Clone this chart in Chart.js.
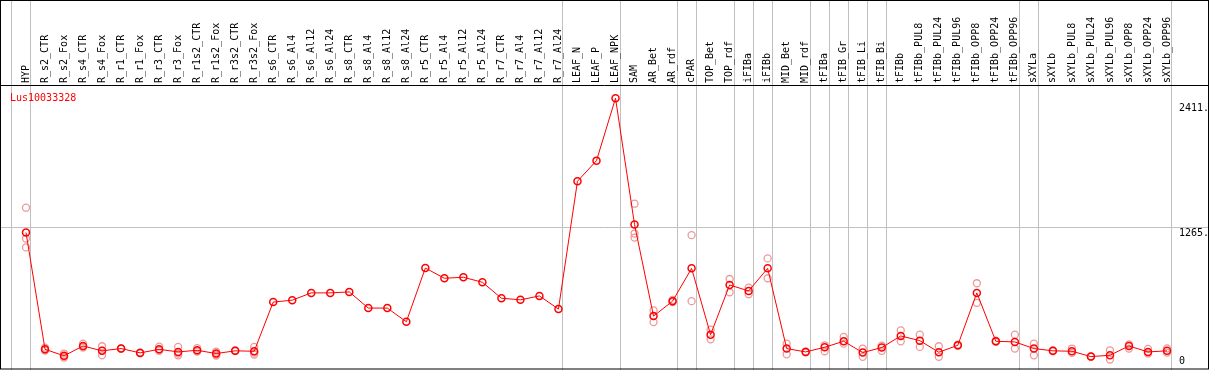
<!DOCTYPE html>
<html>
<head>
<meta charset="utf-8">
<script src="https://cdn.jsdelivr.net/npm/chart.js@4.4.0/dist/chart.umd.min.js"></script>
<style>
  body { margin: 0; background: #fff; }
  #wrap { width: 1209px; height: 370px; }
</style>
</head>
<body>
<div id="wrap"><canvas id="geneChart" width="1209" height="370"></canvas></div>
<script>
var geneName = "Lus10033328";

var categories = ["HYP","R_s2_CTR","R_s2_Fox","R_s4_CTR","R_s4_Fox","R_r1_CTR","R_r1_Fox","R_r3_CTR","R_r3_Fox",
  "R_r1s2_CTR","R_r1s2_Fox","R_r3s2_CTR","R_r3s2_Fox","R_s6_CTR","R_s6_Al4","R_s6_Al12","R_s6_Al24",
  "R_s8_CTR","R_s8_Al4","R_s8_Al12","R_s8_Al24","R_r5_CTR","R_r5_Al4","R_r5_Al12","R_r5_Al24",
  "R_r7_CTR","R_r7_Al4","R_r7_Al12","R_r7_Al24","LEAF_N","LEAF_P","LEAF_NPK","SAM","AR_Bet","AR_rdf",
  "cPAR","TOP_Bet","TOP_rdf","iFIBa","iFIBb","MID_Bet","MID_rdf","tFIBa","tFIB_Gr","tFIB_Li","tFIB_Bi",
  "tFIBb","tFIBb_PUL8","tFIBb_PUL24","tFIBb_PUL96","tFIBb_OPP8","tFIBb_OPP24","tFIBb_OPP96",
  "sXYLa","sXYLb","sXYLb_PUL8","sXYLb_PUL24","sXYLb_PUL96","sXYLb_OPP8","sXYLb_OPP24","sXYLb_OPP96"];

// mean expression per sample
var means = [1216,140,80,171,126,147,107,140,116,131,101,126,122,
  575,593,660,660,669,520,520,394,889,795,804,758,611,596,632,511,
  1689,1879,2454,
  1290,446,584,886,275,733,678,886,147,116,159,214,110,156,263,220,113,177,660,214,208,147,126,122,73,85,171,116,126];

// replicates
var rep1 = [1445,156,101,192,168,149,112,165,162,151,119,130,162,
  null,null,null,null,null,null,null,null,null,null,null,null,null,null,null,null,null,null,null,
  1482,498,595,1192,321,788,709,978,192,121,177,254,147,174,314,275,168,183,749,220,275,192,130,147,75,131,186,144,149];
var rep2 = [1161,137,73,165,128,145,105,128,101,128,92,124,110,
  null,null,null,null,null,null,null,null,null,null,null,null,null,null,null,null,null,null,null,
  1207,391,575,584,232,666,648,795,94,112,122,192,71,126,214,162,71,172,568,208,147,85,122,107,71,46,147,101,110];
var rep3 = [1079,128,64,156,85,null,null,128,85,119,82,null,92,
  null,null,null,null,null,null,null,null,null,null,null,null,null,null,null,null,null,null,null,
  1170,
  null,null,null,null,null,null,null,null,null,null,null,null,null,null,null,null,null,null,null,null,null,null,null,null,null,null,null,null];

var yTicks = [0, 1265, 2411];

// last sample index of each group (-1 = line before the first one)
var groupEnds = [-1,0,28,31,34,35,37,38,39,41,42,43,44,45,52,53,60];

var MONO = "DejaVu Sans Mono";

var framePlugin = {
  id: 'frame',
  beforeDraw: function(chart) {
    var c = chart.ctx, xs = chart.scales.x, ys = chart.scales.y;
    var W = chart.width, H = chart.height;
    c.save();
    c.fillStyle = '#fff';
    c.fillRect(0, 0, W, H);
    c.strokeStyle = '#c0c0c0';
    c.lineWidth = 1;
    groupEnds.forEach(function(i) {
      var x = Math.round(xs.getPixelForValue(i) + 4) + 0.5;
      c.beginPath(); c.moveTo(x, 0); c.lineTo(x, H); c.stroke();
    });
    var yg = Math.round(ys.getPixelForValue(yTicks[1])) + 0.5;
    c.beginPath(); c.moveTo(0, yg); c.lineTo(W, yg); c.stroke();
    c.restore();
  },
  afterDraw: function(chart) {
    var c = chart.ctx, W = chart.width, H = chart.height;
    var top = chart.chartArea.top;
    c.save();
    c.strokeStyle = '#000';
    c.lineWidth = 1;
    c.strokeRect(0.5, 0.5, W - 1, H - 1.5);
    c.beginPath(); c.moveTo(0, top + 0.5); c.lineTo(W, top + 0.5); c.stroke();
    c.fillStyle = '#ff0000';
    c.font = '10px "' + MONO + '"';
    c.textBaseline = 'alphabetic';
    c.fillText(geneName, 10, top + 16);
    c.restore();
  }
};

var repStyle = {
  showLine: false,
  pointRadius: 3.5,
  pointBorderWidth: 1.3,
  pointBorderColor: '#ee9999',
  pointBackgroundColor: 'rgba(0,0,0,0)',
  clip: false
};

new Chart(document.getElementById('geneChart').getContext('2d'), {
  type: 'line',
  data: {
    labels: categories,
    datasets: [
      {
        label: 'mean',
        data: means,
        borderColor: '#ff0000',
        borderWidth: 1,
        tension: 0,
        pointRadius: 3.5,
        pointBorderWidth: 1.5,
        pointBorderColor: '#ff0000',
        pointBackgroundColor: 'rgba(0,0,0,0)',
        clip: false
      },
      Object.assign({ label: 'rep1', data: rep1 }, repStyle),
      Object.assign({ label: 'rep2', data: rep2 }, repStyle),
      Object.assign({ label: 'rep3', data: rep3 }, repStyle)
    ]
  },
  options: {
    responsive: false,
    devicePixelRatio: 1,
    animation: false,
    events: [],
    layout: { padding: { left: 26, right: 0, top: 0, bottom: 4 } },
    plugins: { legend: { display: false }, tooltip: { enabled: false } },
    scales: {
      x: {
        position: 'top',
        offset: false,
        grid: { display: false, drawTicks: false },
        border: { display: false },
        ticks: {
          autoSkip: false,
          minRotation: 90,
          maxRotation: 90,
          padding: 2,
          labelOffset: 12,
          color: '#000',
          font: { family: MONO, size: 10 }
        },
        afterFit: function(s) {
          s.height = 85;
          s.paddingLeft = 0; s.paddingRight = 0;
        }
      },
      y: {
        position: 'right',
        min: 0,
        max: 2576,
        grid: { display: false, drawTicks: false },
        border: { display: false },
        afterBuildTicks: function(s) {
          s.ticks = yTicks.map(function(v) { return { value: v }; });
        },
        ticks: {
          padding: 12,
          color: '#000',
          font: function(ctx) {
            return { family: MONO, size: 10, lineHeight: (ctx.tick && ctx.tick.value === 0) ? 0.7 : 1.2 };
          },
          callback: function(v) {
            return v === 0 ? ['0', ''] : ['', v + '.'];
          }
        },
        afterFit: function(s) {
          s.width = 42;
          s.paddingTop = 0; s.paddingBottom = 0;
        }
      }
    }
  },
  plugins: [framePlugin]
});
</script>
</body>
</html>
